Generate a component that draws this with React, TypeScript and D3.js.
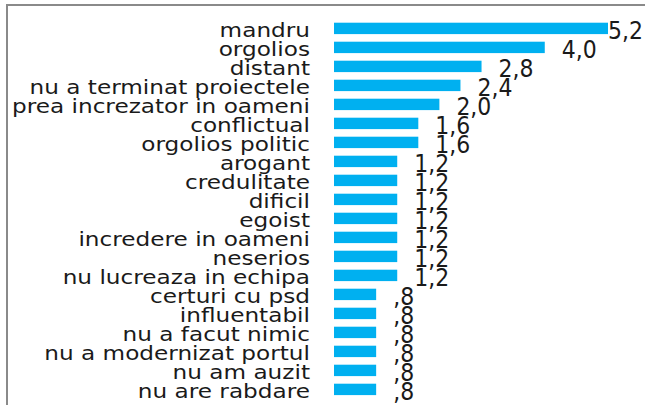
import * as d3 from "d3";
import { useEffect, useRef } from "react";

// categorii si valori (procente)
const categories = [
    "mandru",
    "orgolios",
    "distant",
    "nu a terminat proiectele",
    "prea increzator in oameni",
    "conflictual",
    "orgolios politic",
    "arogant",
    "credulitate",
    "dificil",
    "egoist",
    "incredere in oameni",
    "neserios",
    "nu lucreaza in echipa",
    "certuri cu psd",
    "influentabil",
    "nu a facut nimic",
    "nu a modernizat portul",
    "nu am auzit",
    "nu are rabdare",
];
const values = [5.2, 4.0, 2.8, 2.4, 2.0, 1.6, 1.6, 1.2, 1.2, 1.2, 1.2, 1.2, 1.2, 1.2, 0.8, 0.8, 0.8, 0.8, 0.8, 0.8];

const W = 645;
const H = 405;

// format de tip excel: 5,2 / 4,0 / ,8
const fmt = (v: number) => d3.format(".1f")(v).replace(".", ",").replace(/^0/, "");

const App = () => {
    const ref = useRef<SVGSVGElement>(null);

    useEffect(() => {
        const svg = d3.select(ref.current);
        svg.selectAll("*").remove();

        const data = categories.map((c, i) => ({ label: c, value: values[i] }));

        const y = d3.scaleBand<string>()
            .domain(categories)
            .range([18.9, 18.9 + categories.length * 19])
            .paddingInner(0.4)
            .paddingOuter(0.2);

        const x = d3.scaleLinear()
            .domain([0, d3.max(values) as number])
            .range([334, 608]);

        // rama gri
        svg.append("rect")
            .attr("x", 7)
            .attr("y", 5)
            .attr("width", 800)
            .attr("height", 600)
            .attr("fill", "white")
            .attr("stroke", "#8a8a8a")
            .attr("stroke-width", 2);

        // bare
        svg.selectAll(".bar")
            .data(data).enter()
            .append("rect")
            .attr("class", "bar")
            .attr("x", x(0))
            .attr("y", d => y(d.label) as number)
            .attr("width", d => x(d.value) - x(0))
            .attr("height", y.bandwidth())
            .attr("fill", "#00b0f0");

        // etichete categorii
        svg.selectAll(".cat")
            .data(data).enter()
            .append("text")
            .attr("class", "cat")
            .attr("transform", d => `translate(310, ${(y(d.label) as number) + y.bandwidth() / 2 + 8.4}) scale(1.22, 1)`)
            .attr("text-anchor", "end")
            .attr("font-family", "DejaVu Sans")
            .attr("font-size", 19)
            .attr("fill", "#1a1a1a")
            .text(d => d.label);

        // etichete valori
        const vs = 0.88;
        const vfs = 25;
        svg.selectAll(".val")
            .data(data).enter()
            .append("text")
            .attr("class", "val")
            .attr("transform", d => {
                const s = fmt(d.value);
                const w = s.split("").reduce((a, ch) => a + (ch === "," ? 0.318 : 0.636), 0) * vfs * vs;
                let px = x(d.value) + 17;
                if (px + w > 643) px = 643 - w;
                return `translate(${px}, ${(y(d.label) as number) + y.bandwidth() / 2 + 10.5}) scale(${vs}, 1)`;
            })
            .attr("font-family", "DejaVu Sans")
            .attr("font-size", vfs)
            .attr("fill", "#1a1a1a")
            .text(d => fmt(d.value));
    }, []);

    return (
        <svg ref={ref} width={W} height={H} style={{ position: "absolute", left: 0, top: 0 }}></svg>
    );
};

export default App;
